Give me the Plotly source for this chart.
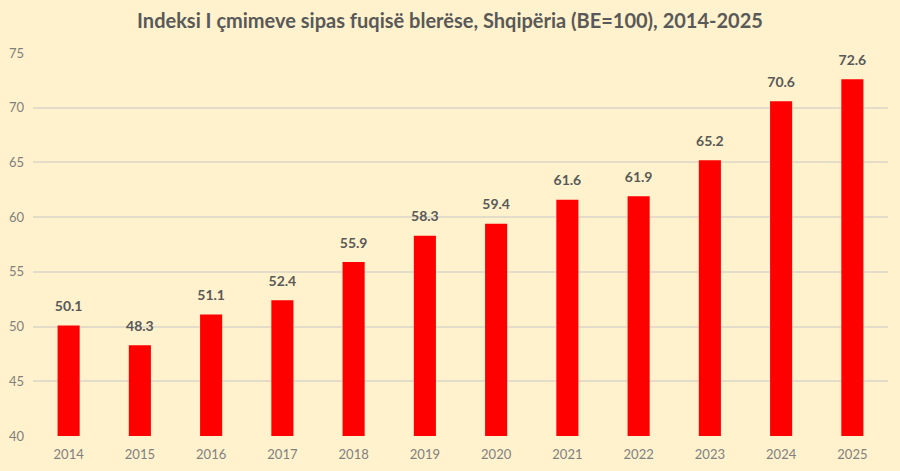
import plotly.graph_objects as go

years = ["2014", "2015", "2016", "2017", "2018", "2019", "2020", "2021", "2022", "2023", "2024", "2025"]
values = [50.1, 48.3, 51.1, 52.4, 55.9, 58.3, 59.4, 61.6, 61.9, 65.2, 70.6, 72.6]
y_ticks = [40, 45, 50, 55, 60, 65, 70, 75]

bg = "#FFF2CC"

fig = go.Figure()
fig.add_trace(go.Bar(
    x=years, y=values,
    marker=dict(color="#FF0000", line=dict(width=0)),
    hoverinfo="skip",
))
fig.add_trace(go.Scatter(
    x=years, y=values,
    mode="markers+text",
    marker=dict(size=16, opacity=0, color=bg),
    text=[f"<b>{v:.1f}</b>" for v in values],
    textposition="top center",
    textfont=dict(family="Lato", size=14, color="#595959"),
    cliponaxis=False,
    hoverinfo="skip",
))

fig.update_layout(
    width=900, height=471,
    paper_bgcolor=bg, plot_bgcolor=bg,
    margin=dict(l=33, r=12, t=53, b=35),
    bargap=0.69,
    title=dict(
        text="<b>Indeksi I çmimeve sipas fuqisë blerëse, Shqipëria (BE=100), 2014-2025</b>",
        x=0.5, xanchor="center", y=0.955, yanchor="middle",
        font=dict(family="Lato", size=20, color="#595959"),
    ),
    showlegend=False,
    font=dict(family="Lato"),
)
fig.update_xaxes(
    type="category", range=[-0.5, len(years) - 0.5], automargin=False,
    tickfont=dict(size=13, color="#808080"),
    showgrid=False, showline=False, ticks="outside", ticklen=6, tickcolor=bg,
)
fig.update_yaxes(
    range=[40, 75], tickvals=y_ticks, automargin=False,
    tickfont=dict(size=13, color="#808080"),
    gridcolor="#E3DCC8", gridwidth=1.5, zeroline=False,
    ticks="", ticklabelstandoff=8,
)

fig.write_html("out.html")
